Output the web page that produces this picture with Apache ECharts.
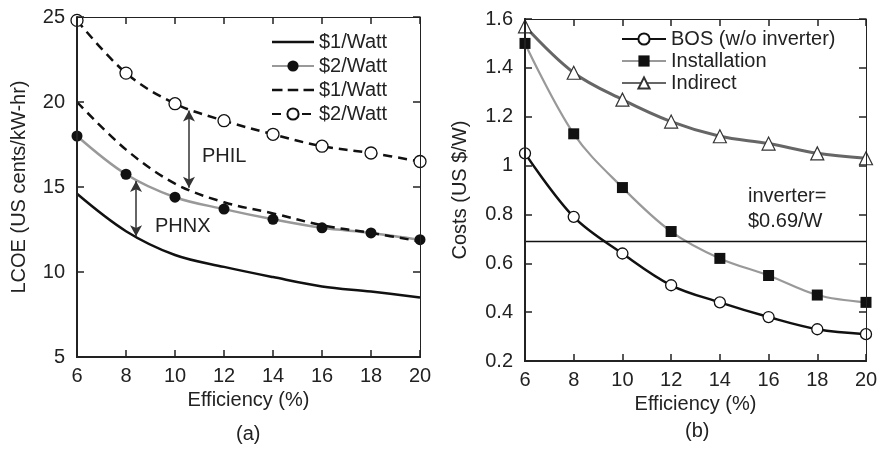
<!DOCTYPE html>
<html><head><meta charset="utf-8">
<script src="https://cdn.jsdelivr.net/npm/echarts@6/dist/echarts.min.js"></script>
<style>html,body{margin:0;padding:0;background:#fff}#wrap{width:885px;height:450px;position:relative}
.pa{position:absolute;left:0;top:0;width:440px;height:450px}
.pb{position:absolute;left:440px;top:0;width:445px;height:450px}
.ov{pointer-events:none}</style>
</head><body><div id="wrap">
<div id="ca" class="pa"></div><div id="cb" class="pb"></div>
<div id="oa" class="pa ov"></div><div id="ob" class="pb ov"></div>
</div>
<script>
const efficiency = [6, 8, 10, 12, 14, 16, 18, 20];
// Panel (a) LCOE, US cents/kW-hr
const phnx1 = [14.6, 12.4, 11.0, 10.3, 9.7, 9.15, 8.85, 8.5];
const phnx2 = [18.0, 15.75, 14.4, 13.7, 13.1, 12.6, 12.3, 11.9];
const phil1 = [20.0, 17.2, 15.2, 14.1, 13.45, 12.75, 12.3, 11.8];
const phil2 = [24.8, 21.7, 19.9, 18.9, 18.1, 17.4, 17.0, 16.5];
const legendA = ['$1/Watt', '$2/Watt', '$1/Watt ', '$2/Watt '];
// Panel (b) Costs, US $/W
const bos = [1.05, 0.79, 0.64, 0.51, 0.44, 0.38, 0.33, 0.31];
const installation = [1.5, 1.13, 0.91, 0.73, 0.62, 0.55, 0.47, 0.44];
const indirect = [1.57, 1.38, 1.27, 1.18, 1.12, 1.09, 1.05, 1.03];
const legendB = ['BOS (w/o inverter)', 'Installation', 'Indirect'];
const inverterCost = 0.69;

const FONT = "'Liberation Sans', Arial, Helvetica, sans-serif";
const TXT = '#222';
const pair = arr => efficiency.map((x, i) => [x, arr[i]]);
const GRID_A = { left: 77, right: 20, top: 17, bottom: 93 };
const GRID_B = { left: 85, right: 19, top: 19, bottom: 89 };

// Base axes: lines, labels, names
function baseX() {
  return { type: 'value', min: 6, max: 20, interval: 2,
    axisLine: { show: true, onZero: false, lineStyle: { color: TXT, width: 2 } },
    axisTick: { show: false },
    axisLabel: { color: TXT, fontSize: 20, margin: 9 },
    splitLine: { show: false },
    name: 'Efficiency (%)', nameLocation: 'middle', nameGap: 31,
    nameTextStyle: { color: TXT, fontSize: 20 } };
}
function baseY(min, max, interval, name, gap) {
  return { type: 'value', min: min, max: max, interval: interval,
    axisLine: { show: true, onZero: false, lineStyle: { color: TXT, width: 2 } },
    axisTick: { show: false },
    axisLabel: { color: TXT, fontSize: 20, margin: 12 },
    splitLine: { show: false },
    name: name, nameLocation: 'middle', nameGap: gap, nameRotate: 90,
    nameTextStyle: { color: TXT, fontSize: 20 } };
}
// Frame overlay: four axes with inward ticks, no labels
function frameOption(grid, min, max, interval) {
  const tick = { show: true, inside: true, length: 7, lineStyle: { color: TXT, width: 1.5 } };
  const ax = (pos, w, isX) => Object.assign({
    type: 'value', position: pos,
    axisLine: { show: true, onZero: false, lineStyle: { color: TXT, width: w } },
    axisTick: tick, axisLabel: { show: false }, splitLine: { show: false }
  }, isX ? { min: 6, max: 20, interval: 2 } : { min: min, max: max, interval: interval });
  return {
    animation: false,
    grid: grid,
    xAxis: [ax('bottom', 2, true), ax('top', 1, true)],
    yAxis: [ax('left', 2, false), ax('right', 1, false)],
    series: [{ type: 'line', data: [], silent: true }]
  };
}
function note(text, left, top) {
  return { text: text, left: left, top: top, padding: 0,
    textStyle: { color: TXT, fontSize: 20, fontWeight: 'normal', fontFamily: FONT, lineHeight: 25 } };
}

const chartA = echarts.init(document.getElementById('ca'));
chartA.setOption({
  animation: false,
  textStyle: { fontFamily: FONT },
  grid: GRID_A,
  xAxis: baseX(),
  yAxis: baseY(5, 25, 5, 'LCOE (US cents/kW-hr)', 48),
  legend: {
    orient: 'vertical', left: 266, top: 27, itemGap: 4,
    itemWidth: 42, itemHeight: 14,
    data: [
      { name: legendA[0], icon: 'path://M0,0h40v2.5h-40z' },
      legendA[1],
      { name: legendA[2], icon: 'path://M0,0h10v2.5h-10z M15,0h10v2.5h-10z M30,0h10v2.5h-10z' },
      legendA[3]
    ],
    formatter: n => n.trim(),
    textStyle: { color: TXT, fontSize: 20, fontFamily: FONT }
  },
  title: [
    note('PHIL', 202, 144),
    note('PHNX', 155, 214),
    note('(a)', 236, 422)
  ],
  series: [
    {
      name: legendA[0], type: 'line', data: pair(phnx1),
      smooth: 0.35, symbol: 'none',
      lineStyle: { color: '#111', width: 2.5 }, itemStyle: { color: '#111' },
      markLine: {
        silent: true, symbol: ['arrow', 'arrow'], symbolSize: [9, 11],
        label: { show: false },
        lineStyle: { color: '#333', width: 1.5, type: 'solid' },
        data: [
          [{ coord: [10.57, 19.5] }, { coord: [10.57, 14.95] }],
          [{ coord: [8.41, 15.35] }, { coord: [8.41, 12.1] }]
        ]
      }
    },
    {
      name: legendA[1], type: 'line', data: pair(phnx2),
      smooth: 0.35, symbol: 'circle', symbolSize: 11,
      lineStyle: { color: '#999', width: 2.5 }, itemStyle: { color: '#111' }
    },
    {
      name: legendA[2], type: 'line', data: pair(phil1),
      smooth: 0.35, symbol: 'none',
      lineStyle: { color: '#111', width: 2.5, type: [9, 6] }, itemStyle: { color: '#111' }
    },
    {
      name: legendA[3], type: 'line', data: pair(phil2),
      smooth: 0.35, symbol: 'circle', symbolSize: 12, z: 3,
      lineStyle: { color: '#111', width: 2.5, type: [9, 6] },
      itemStyle: { color: '#fff', borderColor: '#111', borderWidth: 1.3 }
    }
  ]
});

const chartB = echarts.init(document.getElementById('cb'));
chartB.setOption({
  animation: false,
  textStyle: { fontFamily: FONT },
  grid: GRID_B,
  xAxis: baseX(),
  yAxis: baseY(0.2, 1.6, 0.2, 'Costs (US $/W)', 55),
  legend: {
    data: legendB, orient: 'vertical', left: 176, top: 24, itemGap: 2,
    itemWidth: 44, itemHeight: 14,
    textStyle: { color: TXT, fontSize: 20, fontFamily: FONT }
  },
  title: [
    note('inverter=\n$0.69/W', 308, 184),
    note('(b)', 245, 419)
  ],
  series: [
    {
      name: legendB[0], type: 'line', data: pair(bos),
      smooth: 0.35, symbol: 'circle', symbolSize: 11,
      lineStyle: { color: '#111', width: 2.5 },
      itemStyle: { color: '#fff', borderColor: '#111', borderWidth: 1.3 },
      markLine: {
        silent: true, symbol: 'none', label: { show: false },
        lineStyle: { color: '#111', width: 1.3, type: 'solid' },
        data: [{ yAxis: inverterCost }]
      }
    },
    {
      name: legendB[1], type: 'line', data: pair(installation),
      smooth: 0.35, symbol: 'rect', symbolSize: 11,
      lineStyle: { color: '#999', width: 2.2 }, itemStyle: { color: '#111' }
    },
    {
      name: legendB[2], type: 'line', data: pair(indirect),
      smooth: 0.35, symbol: 'triangle', symbolSize: 13,
      lineStyle: { color: '#666', width: 3 },
      itemStyle: { color: '#fff', borderColor: '#333', borderWidth: 1.2 }
    }
  ]
});

echarts.init(document.getElementById('oa')).setOption(frameOption(GRID_A, 5, 25, 5));
echarts.init(document.getElementById('ob')).setOption(frameOption(GRID_B, 0.2, 1.6, 0.2));
</script>
</body></html>
